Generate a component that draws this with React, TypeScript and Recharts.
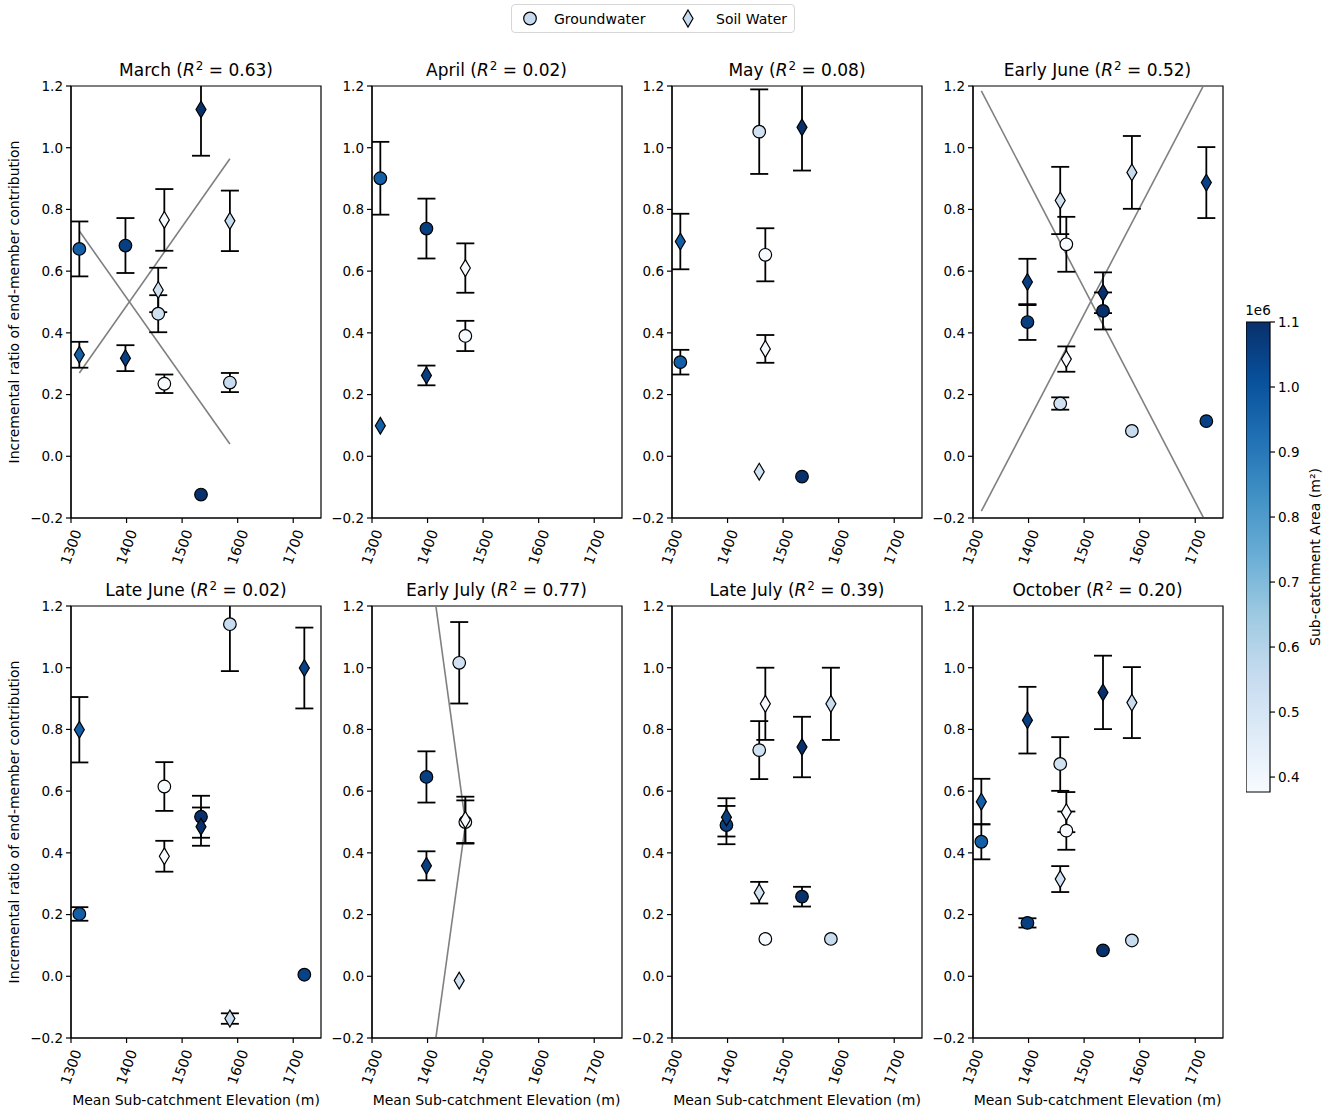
import React from "react";
import { ComposedChart, Scatter, Line, XAxis, YAxis, ErrorBar, ReferenceArea } from "recharts";

// ---------- data ----------
const ELEVATION = [1315, 1398, 1457, 1468, 1534, 1586, 1720]; // m
const AREA = [0.97, 1.06, 0.52, 0.377, 1.1, 0.55, 1.05]; // x1e6 m²
const AREA_MIN = 0.377;
const AREA_MAX = 1.1;

const PERIODS = ["March", "April", "May", "Early June", "Late June", "Early July", "Late July", "October"];
const R2 = ["0.63", "0.02", "0.08", "0.52", "0.02", "0.77", "0.39", "0.20"];

const X_TICKS = [1300, 1400, 1500, 1600, 1700];
const Y_TICKS = [-0.2, 0, 0.2, 0.4, 0.6, 0.8, 1.0, 1.2];
const CB_TICKS = [0.4, 0.5, 0.6, 0.7, 0.8, 0.9, 1.0, 1.1];

type N = number | null;

const MARCH_GW: N[] = [0.672, 0.683, 0.462, 0.235, -0.124, 0.239, null];
const MARCH_GW_ERR: N[] = [0.089, 0.089, 0.06, 0.03, null, 0.031, null];
const MARCH_SW: N[] = [0.329, 0.318, 0.539, 0.766, 1.124, 0.763, null];
const MARCH_SW_ERR: N[] = [0.042, 0.042, 0.072, 0.1, 0.15, 0.098, null];

const APRIL_GW: N[] = [0.901, 0.738, null, 0.39, null, null, null];
const APRIL_GW_ERR: N[] = [0.118, 0.097, null, 0.049, null, null, null];
const APRIL_SW: N[] = [0.099, 0.262, null, 0.61, null, null, null];
const APRIL_SW_ERR: N[] = [null, 0.032, null, 0.08, null, null, null];

const MAY_GW: N[] = [0.305, null, 1.052, 0.653, -0.066, null, null];
const MAY_GW_ERR: N[] = [0.04, null, 0.137, 0.086, null, null, null];
const MAY_SW: N[] = [0.696, null, -0.05, 0.348, 1.066, null, null];
const MAY_SW_ERR: N[] = [0.09, null, null, 0.045, 0.14, null, null];

const EJUNE_GW: N[] = [null, 0.435, 0.171, 0.687, 0.471, 0.082, 0.114];
const EJUNE_GW_ERR: N[] = [null, 0.058, 0.02, 0.089, 0.06, null, null];
const EJUNE_SW: N[] = [null, 0.565, 0.829, 0.315, 0.53, 0.92, 0.887];
const EJUNE_SW_ERR: N[] = [null, 0.075, 0.109, 0.041, 0.066, 0.118, 0.115];

const LJUNE_GW: N[] = [0.202, null, null, 0.615, 0.517, 1.141, 0.005];
const LJUNE_GW_ERR: N[] = [0.022, null, null, 0.079, 0.068, 0.152, null];
const LJUNE_SW: N[] = [0.799, null, null, 0.389, 0.485, -0.137, 0.999];
const LJUNE_SW_ERR: N[] = [0.106, null, null, 0.05, 0.062, 0.017, 0.131];

const EJULY_GW: N[] = [null, 0.646, 1.016, 0.5, null, null, null];
const EJULY_GW_ERR: N[] = [null, 0.083, 0.132, 0.07, null, null, null];
const EJULY_SW: N[] = [null, 0.358, -0.014, 0.507, null, null, null];
const EJULY_SW_ERR: N[] = [null, 0.047, null, 0.075, null, null, null];

const LJULY_GW: N[] = [null, 0.49, 0.733, 0.121, 0.258, 0.121, null];
const LJULY_GW_ERR: N[] = [null, 0.062, 0.094, null, 0.032, null, null];
const LJULY_SW: N[] = [null, 0.515, 0.271, 0.883, 0.743, 0.883, null];
const LJULY_SW_ERR: N[] = [null, 0.062, 0.035, 0.117, 0.098, 0.117, null];

const OCT_GW: N[] = [0.436, 0.173, 0.688, 0.472, 0.084, 0.116, null];
const OCT_GW_ERR: N[] = [0.057, 0.015, 0.087, 0.062, null, null, null];
const OCT_SW: N[] = [0.566, 0.83, 0.315, 0.532, 0.92, 0.887, null];
const OCT_SW_ERR: N[] = [0.074, 0.108, 0.042, 0.065, 0.119, 0.115, null];

// regression lines: [x1, y1, x2, y2]
const FIT_MARCH = [
  [1315, 0.73, 1586, 0.04],
  [1315, 0.27, 1586, 0.964],
];
const FIT_EJUNE = [
  [1315, 1.184, 1720, -0.217],
  [1315, -0.178, 1720, 1.219],
];
const FIT_EJULY = [
  [1398, 1.425, 1468, 0.5],
  [1398, -0.421, 1468, 0.49],
];
const NO_FIT: number[][] = [];

const GW_LIST = [MARCH_GW, APRIL_GW, MAY_GW, EJUNE_GW, LJUNE_GW, EJULY_GW, LJULY_GW, OCT_GW];
const GW_ERR_LIST = [MARCH_GW_ERR, APRIL_GW_ERR, MAY_GW_ERR, EJUNE_GW_ERR, LJUNE_GW_ERR, EJULY_GW_ERR, LJULY_GW_ERR, OCT_GW_ERR];
const SW_LIST = [MARCH_SW, APRIL_SW, MAY_SW, EJUNE_SW, LJUNE_SW, EJULY_SW, LJULY_SW, OCT_SW];
const SW_ERR_LIST = [MARCH_SW_ERR, APRIL_SW_ERR, MAY_SW_ERR, EJUNE_SW_ERR, LJUNE_SW_ERR, EJULY_SW_ERR, LJULY_SW_ERR, OCT_SW_ERR];
const FIT_LIST = [FIT_MARCH, NO_FIT, NO_FIT, FIT_EJUNE, NO_FIT, FIT_EJULY, NO_FIT, NO_FIT];

// ---------- colormap (matplotlib Blues) ----------
const BLUES = ["#f7fbff", "#deebf7", "#c6dbef", "#9ecae1", "#6baed6", "#4292c6", "#2171b5", "#08519c", "#08306b"];
function hexToRgb(h: string) {
  return [parseInt(h.slice(1, 3), 16), parseInt(h.slice(3, 5), 16), parseInt(h.slice(5, 7), 16)];
}
function blues(t: number) {
  const tt = Math.max(0, Math.min(1, t)) * (BLUES.length - 1);
  const i = Math.min(BLUES.length - 2, Math.floor(tt));
  const f = tt - i;
  const a = hexToRgb(BLUES[i]);
  const b = hexToRgb(BLUES[i + 1]);
  const c = a.map((v, k) => Math.round(v + (b[k] - v) * f));
  return `rgb(${c[0]},${c[1]},${c[2]})`;
}
const areaColor = (a: number) => blues((a - AREA_MIN) / (AREA_MAX - AREA_MIN));

// ---------- layout ----------
const FONT = "'DejaVu Sans', Verdana, sans-serif";
const COL_LEFT = [71, 371.5, 672, 972.5];
const ROW_TOP = [86, 606];
const PLOT_W = 250;
const PLOT_H = 432;
const YAXIS_W = 60;
const MT = 10;
const MR = 20;
const XAXIS_H = 55;

const CircleShape = (props: any) => {
  const { cx, cy, payload } = props;
  if (cx == null || cy == null) return <g />;
  return <circle cx={cx} cy={cy} r={6.3} fill={areaColor(payload.area)} stroke="#000" strokeWidth={1.2} />;
};
const DiamondShape = (props: any) => {
  const { cx, cy, payload } = props;
  if (cx == null || cy == null) return <g />;
  const w = 5;
  const h = 8.4;
  return (
    <path
      d={`M${cx},${cy - h}L${cx + w},${cy}L${cx},${cy + h}L${cx - w},${cy}Z`}
      fill={areaColor(payload.area)}
      stroke="#000"
      strokeWidth={1.2}
    />
  );
};

const XTick = (props: any) => {
  const { x, y, payload } = props;
  const cy = y + 22;
  return (
    <text
      x={x}
      y={cy}
      textAnchor="middle"
      dominantBaseline="central"
      transform={`rotate(-70, ${x}, ${cy})`}
      fontSize={14}
      fontFamily={FONT}
      fill="#000"
    >
      {payload.value}
    </text>
  );
};

const fmtY = (v: number) => (v < 0 ? "\u2212" + Math.abs(v).toFixed(1) : v.toFixed(1));

function buildPoints(vals: N[], errs: N[]) {
  const out: { x: number; y: number; err: number | null; area: number }[] = [];
  ELEVATION.forEach((x, j) => {
    const v = vals[j];
    if (v !== null) out.push({ x, y: v, err: errs[j], area: AREA[j] });
  });
  return out;
}

function Panel({ idx }: { idx: number }) {
  const row = Math.floor(idx / 4);
  const col = idx % 4;
  const left = COL_LEFT[col];
  const top = ROW_TOP[row];
  const gw = buildPoints(GW_LIST[idx], GW_ERR_LIST[idx]);
  const sw = buildPoints(SW_LIST[idx], SW_ERR_LIST[idx]);
  const fits = FIT_LIST[idx];
  return (
    <>
      <div
        style={{
          position: "absolute",
          left,
          top: top - 27,
          width: PLOT_W,
          height: 22,
          lineHeight: "22px",
          textAlign: "center",
          fontFamily: FONT,
          fontSize: 17,
          color: "#000",
          whiteSpace: "nowrap",
        }}
      >
        {PERIODS[idx]} (<span style={{ fontStyle: "italic" }}>R</span>
        <span style={{ fontSize: "70%", position: "relative", top: "-0.5em", marginLeft: 1 }}>2</span> = {R2[idx]})
      </div>
      <div className="rc-panel" style={{ position: "absolute", left: left - YAXIS_W, top: top - MT }}>
        <ComposedChart
          width={YAXIS_W + PLOT_W + MR}
          height={MT + PLOT_H + XAXIS_H}
          margin={{ top: MT, right: MR, left: 0, bottom: 0 }}
        >
          <XAxis
            type="number"
            dataKey="x"
            domain={[1300, 1750]}
            ticks={X_TICKS}
            allowDataOverflow
            height={XAXIS_H}
            tick={<XTick />}
            tickSize={5}
            axisLine={{ stroke: "#000", strokeWidth: 1.2 }}
            tickLine={{ stroke: "#000", strokeWidth: 1.2 }}
            interval={0}
          />
          <YAxis
            type="number"
            dataKey="y"
            domain={[-0.2, 1.2]}
            ticks={Y_TICKS}
            allowDataOverflow
            width={YAXIS_W}
            tickFormatter={fmtY}
            tick={{ fontSize: 13.5, fontFamily: FONT, fill: "#000" }}
            tickSize={5}
            tickMargin={3}
            axisLine={{ stroke: "#000", strokeWidth: 1.2 }}
            tickLine={{ stroke: "#000", strokeWidth: 1.2 }}
            interval={0}
          />
          <ReferenceArea
            x1={1300}
            x2={1750}
            y1={-0.2}
            y2={1.2}
            fill="none"
            fillOpacity={0}
            stroke="#000"
            strokeWidth={1.2}
            ifOverflow="visible"
          />
          {fits.map((f, k) => (
            <Line
              key={"fit" + k}
              data={[
                { x: f[0], y: f[1] },
                { x: f[2], y: f[3] },
              ]}
              dataKey="y"
              type="linear"
              stroke="#808080"
              strokeWidth={1.6}
              dot={false}
              activeDot={false}
              isAnimationActive={false}
            />
          ))}
          <Scatter data={gw} dataKey="y" shape={CircleShape} isAnimationActive={false}>
            <ErrorBar dataKey="err" direction="y" width={9} stroke="#000" strokeWidth={1.8} />
          </Scatter>
          <Scatter data={sw} dataKey="y" shape={DiamondShape} isAnimationActive={false}>
            <ErrorBar dataKey="err" direction="y" width={9} stroke="#000" strokeWidth={1.8} />
          </Scatter>
        </ComposedChart>
      </div>
    </>
  );
}

const CB_LEFT = 1246;
const CB_TOP = 322;
const CB_W = 24;
const CB_H = 470;

function ColorBar() {
  return (
    <>
      <div
        style={{
          position: "absolute",
          left: CB_LEFT - 10,
          top: CB_TOP - 20,
          width: 44,
          textAlign: "center",
          fontFamily: FONT,
          fontSize: 13.5,
          lineHeight: "16px",
        }}
      >
        1e6
      </div>
      <div style={{ position: "absolute", left: CB_LEFT, top: CB_TOP - 10 }}>
        <ComposedChart width={CB_W + 50} height={CB_H + 20} margin={{ top: 10, right: 0, left: 0, bottom: 10 }}>
          <defs>
            <linearGradient id="bluesGrad" x1="0" y1="1" x2="0" y2="0">
              {BLUES.map((c, i) => (
                <stop key={i} offset={`${(i / (BLUES.length - 1)) * 100}%`} stopColor={c} />
              ))}
            </linearGradient>
          </defs>
          <XAxis type="number" dataKey="x" domain={[0, 1]} hide allowDataOverflow />
          <YAxis
            type="number"
            orientation="right"
            domain={[AREA_MIN, AREA_MAX]}
            ticks={CB_TICKS}
            allowDataOverflow
            width={50}
            axisLine={false}
            tickSize={5}
            tickMargin={3}
            tickLine={{ stroke: "#000", strokeWidth: 1.2 }}
            tickFormatter={(v: number) => v.toFixed(1)}
            tick={{ fontSize: 13.5, fontFamily: FONT, fill: "#000" }}
            interval={0}
          />
          <ReferenceArea
            x1={0}
            x2={1}
            y1={AREA_MIN}
            y2={AREA_MAX}
            fill="url(#bluesGrad)"
            fillOpacity={1}
            stroke="#000"
            strokeWidth={1.2}
          />
        </ComposedChart>
      </div>
      <div
        style={{
          position: "absolute",
          left: 1315 - 150,
          top: CB_TOP + CB_H / 2 - 10,
          width: 300,
          height: 20,
          lineHeight: "20px",
          textAlign: "center",
          transform: "rotate(-90deg)",
          fontFamily: FONT,
          fontSize: 14,
          whiteSpace: "nowrap",
        }}
      >
        Sub-catchment Area (m²)
      </div>
    </>
  );
}

function LegendBox() {
  const fill = blues(0.25);
  return (
    <div
      style={{
        position: "absolute",
        left: 511,
        top: 4,
        width: 282,
        height: 27,
        border: "1px solid #d6d6d6",
        borderRadius: 4,
        background: "#fff",
        fontFamily: FONT,
        fontSize: 14,
      }}
    >
      <svg width={282} height={27} style={{ position: "absolute", left: 0, top: 0 }}>
        <circle cx={18} cy={13.5} r={6.3} fill={fill} stroke="#000" strokeWidth={1.2} />
        <path d={`M176,5L181,13.5L176,22L171,13.5Z`} fill={fill} stroke="#000" strokeWidth={1.2} />
        <text x={42} y={18.5} fontFamily={FONT} fontSize={14} fill="#000">
          Groundwater
        </text>
        <text x={204} y={18.5} fontFamily={FONT} fontSize={14} fill="#000">
          Soil Water
        </text>
      </svg>
    </div>
  );
}

export default function App() {
  const yLabel = "Incremental ratio of end-member contribution";
  return (
    <div style={{ position: "absolute", left: 0, top: 0, width: 1325, height: 1113, background: "#fff", overflow: "hidden" }}>
      <style>{`.rc-panel .recharts-errorBars { clip-path: url(#plotAreaClip); }`}</style>
      <svg width={0} height={0} style={{ position: "absolute", left: 0, top: 0 }}>
        <defs>
          <clipPath id="plotAreaClip" clipPathUnits="userSpaceOnUse">
            <rect x={YAXIS_W} y={MT} width={PLOT_W} height={PLOT_H} />
          </clipPath>
        </defs>
      </svg>
      <LegendBox />
      {PERIODS.map((_, i) => (
        <Panel key={i} idx={i} />
      ))}
      {ROW_TOP.map((t, r) => (
        <div
          key={"yl" + r}
          style={{
            position: "absolute",
            left: 14 - 200,
            top: t + PLOT_H / 2 - 10,
            width: 400,
            height: 20,
            lineHeight: "20px",
            textAlign: "center",
            transform: "rotate(-90deg)",
            fontFamily: FONT,
            fontSize: 14,
            whiteSpace: "nowrap",
          }}
        >
          {yLabel}
        </div>
      ))}
      {COL_LEFT.map((l, c) => (
        <div
          key={"xl" + c}
          style={{
            position: "absolute",
            left: l - 25,
            top: 1090,
            width: PLOT_W + 50,
            height: 20,
            lineHeight: "20px",
            textAlign: "center",
            fontFamily: FONT,
            fontSize: 14,
            whiteSpace: "nowrap",
          }}
        >
          Mean Sub-catchment Elevation (m)
        </div>
      ))}
      <ColorBar />
    </div>
  );
}
